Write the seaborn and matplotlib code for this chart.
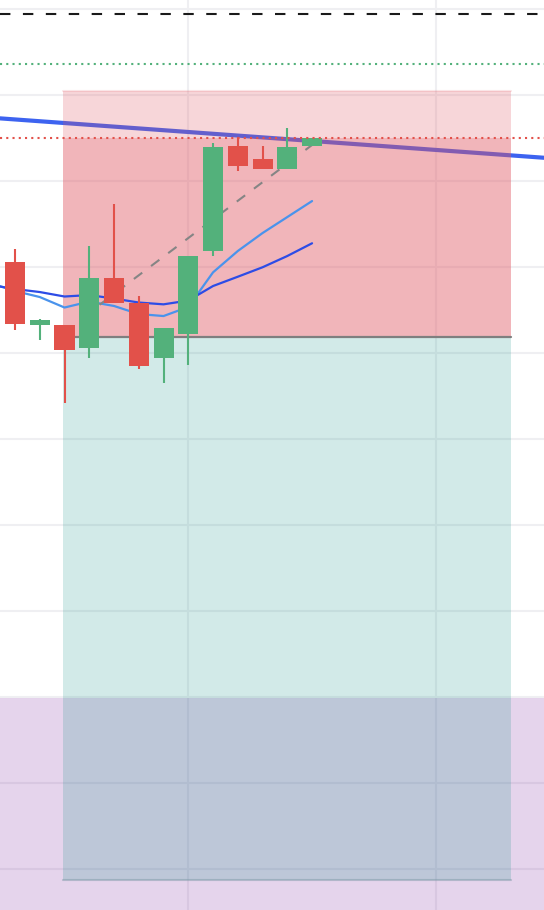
import numpy as np
import pandas as pd
import matplotlib
matplotlib.use("Agg")
import matplotlib.pyplot as plt
import seaborn as sns
from matplotlib.patches import Rectangle

# candle data (bar index, price)
idx = list(range(13))
opens = [70.58, 63.21, 63.26, 60.58, 68.72, 65.81, 59.42, 62.21, 71.86, 84.07, 82.56, 81.40, 84.07]
closes = [63.37, 63.84, 60.35, 68.72, 65.81, 58.49, 62.91, 71.28, 83.95, 81.74, 81.40, 83.95, 85.00]
highs = [72.09, 63.95, 63.26, 72.44, 77.33, 66.63, 62.91, 71.28, 84.42, 85.12, 84.07, 86.16, 85.00]
lows = [62.67, 61.51, 54.19, 59.42, 65.81, 58.14, 56.51, 58.60, 71.28, 81.16, 81.40, 81.40, 84.07]

# moving averages
ma_idx = list(range(-1, 13))
ma_slow = [67.91, 67.44, 67.09, 66.57, 66.74, 66.33, 65.87, 65.66, 66.10, 67.79, 68.87, 69.97, 71.28, 72.76]
ma_fast = [68.14, 67.21, 66.51, 65.29, 65.98, 65.47, 64.53, 64.30, 65.35, 69.38, 71.86, 73.95, 75.81, 77.67]

# levels / drawings
trend_pts = [(0, 87.16), (20, 82.99)]
proj_pts = [(3, 64.71), (12, 84.19)]
level_top = 99.42
level_target = 93.6
level_stop = 85.0
box_left, box_right = 1.95, 20.05
box_top = 90.47
entry = 61.86
box_bottom = -1.28
zone_top = 19.88

GREEN = "#53b17b"
RED = "#e2514a"

sns.set_style("white")
fig = plt.figure(figsize=(5.44, 9.10), dpi=100)
ax = fig.add_axes([0, 0, 1, 1])

ax.set_xlim(-0.606, 21.37)
ax.set_ylim(-4.77, 101.05)
ax.set_xticks([7, 17])
ax.set_yticks(np.arange(0, 101, 10))
ax.grid(True, color="#efeff2", linewidth=1.5, zorder=0)
ax.tick_params(left=False, bottom=False, labelleft=False, labelbottom=False)
for s in ax.spines.values():
    s.set_visible(False)
ax.set_axisbelow(True)

# purple zone
ax.add_patch(Rectangle((-5, -10), 40, zone_top + 10, facecolor=(125/255, 40/255, 160/255),
                       alpha=0.2, linewidth=0, zorder=1))

# trend line (under the boxes)
ax.axline(trend_pts[0], trend_pts[1], color="#3d63f0", linewidth=3, zorder=2)

# risk / reward boxes
red_c = (224/255, 85/255, 96/255)
ax.add_patch(Rectangle((box_left, entry), box_right - box_left, box_top - entry,
                       facecolor=red_c, alpha=0.24, linewidth=0, zorder=3))
ax.plot([box_left, box_right], [box_top, box_top], color=red_c, alpha=0.15, lw=1.5, zorder=3)
ax.add_patch(Rectangle((box_left, entry), box_right - box_left, level_stop - entry,
                       facecolor=red_c, alpha=0.25, linewidth=0, zorder=3))
ax.add_patch(Rectangle((box_left, box_bottom), box_right - box_left, entry - box_bottom,
                       facecolor=(30/255, 150/255, 140/255), alpha=0.2, linewidth=0, zorder=3))
ax.plot([box_left, box_right], [box_bottom, box_bottom], color="#7f9aa8", alpha=0.5, lw=1.5, zorder=3)
ax.plot([box_left, box_right], [entry, entry], color="#7f7f7f", lw=1.6, zorder=4)

# moving averages
ma = pd.DataFrame({"i": ma_idx, "slow": ma_slow, "fast": ma_fast})
sns.lineplot(data=ma, x="i", y="fast", ax=ax, color="#4a93ec", linewidth=1.6, zorder=5)
sns.lineplot(data=ma, x="i", y="slow", ax=ax, color="#2d4ce6", linewidth=1.6, zorder=5)

# projection dashed line
ax.plot([proj_pts[0][0], proj_pts[1][0]], [proj_pts[0][1], proj_pts[1][1]],
        color="#858585", linewidth=1.5, linestyle=(4.1, (5, 5.3)), zorder=5)

# candles
for i, o, h, l, c in zip(idx, opens, highs, lows, closes):
    col = GREEN if c >= o else RED
    ax.plot([i, i], [l, h], color=col, linewidth=1.5, solid_capstyle="butt", zorder=6)
    ax.bar(i, abs(c - o), bottom=min(o, c), width=0.81, color=col, linewidth=0, zorder=7)

# horizontal levels
ax.axhline(level_top, color="#1a1a1a", linewidth=1.5, linestyle=(0, (5, 6)), zorder=8)
ax.axhline(level_target, color=GREEN, linewidth=1.5, linestyle=(0, (1, 2)), zorder=8)
ax.axhline(level_stop, color=RED, linewidth=1.5, linestyle=(0, (1, 2)), zorder=8)

ax.set_xlabel("")
ax.set_ylabel("")
fig.savefig("out.png", dpi=100)
